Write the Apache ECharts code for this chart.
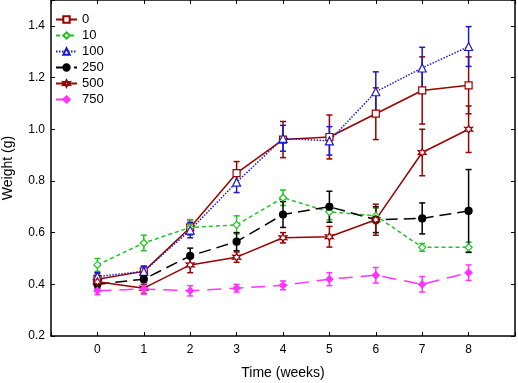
<!DOCTYPE html>
<html>
<head>
<meta charset="utf-8">
<script src="https://cdn.jsdelivr.net/npm/echarts@6/dist/echarts.min.js"></script>
<style>
  html, body { margin: 0; padding: 0; background: #fff; }
  #main { width: 518px; height: 383px; }
</style>
</head>
<body>
<div id="main"></div>
<script>
// weeks on the x axis
const weeks = [0, 1, 2, 3, 4, 5, 6, 7, 8];
const yTicks = [0.2, 0.4, 0.6, 0.8, 1.0, 1.2, 1.4];

// mean weight (g) and error per dose group
const w0 = [0.42, 0.45, 0.62, 0.83, 0.96, 0.97, 1.06, 1.15, 1.17];
const e0 = [0.02, 0.02, 0.03, 0.045, 0.07, 0.085, 0.1, 0.13, 0.11];
const w10 = [0.475, 0.56, 0.62, 0.63, 0.735, 0.68, 0.665, 0.543, 0.543];
const e10 = [0.025, 0.03, 0.03, 0.035, 0.03, 0.03, 0.03, 0.015, 0.02];
const w100 = [0.43, 0.45, 0.61, 0.795, 0.965, 0.955, 1.145, 1.237, 1.32];
const e100 = [0.015, 0.02, 0.03, 0.04, 0.05, 0.055, 0.077, 0.08, 0.077];
const w250 = [0.40, 0.42, 0.51, 0.565, 0.67, 0.70, 0.65, 0.655, 0.684];
const e250 = [0.015, 0.02, 0.03, 0.035, 0.05, 0.06, 0.05, 0.06, 0.16];
const w500 = [0.41, 0.385, 0.475, 0.505, 0.58, 0.584, 0.65, 0.91, 1.0];
const e500 = [0.015, 0.02, 0.03, 0.02, 0.02, 0.04, 0.06, 0.09, 0.09];
const w750 = [0.375, 0.382, 0.375, 0.385, 0.396, 0.42, 0.435, 0.40, 0.445];
const e750 = [0.015, 0.02, 0.02, 0.015, 0.017, 0.025, 0.03, 0.03, 0.03];

// six point star for the 500 group
const star6 = "path://M10,0 L12.5,5.7 L18.7,5 L15,10 L18.7,15 L12.5,14.3 L10,20 L7.5,14.3 L1.3,15 L5,10 L1.3,5 L7.5,5.7 Z";

const groups = [
  { name: "0", vals: w0, errs: e0, color: "#990000", dash: "solid", symbol: "rect", size: 7, fill: "#fff" },
  { name: "10", vals: w10, errs: e10, color: "#22c322", dash: [4, 3], symbol: "diamond", size: 7, fill: "#fff" },
  { name: "100", vals: w100, errs: e100, color: "#1a1acc", dash: [1.5, 1.5], symbol: "triangle", size: 8, fill: "#fff" },
  { name: "250", vals: w250, errs: e250, color: "#000000", dash: [12, 6], symbol: "circle", size: 7, fill: "#000" },
  { name: "500", vals: w500, errs: e500, color: "#990000", dash: "solid", symbol: star6, size: 8, fill: "#fff" },
  { name: "750", vals: w750, errs: e750, color: "#ff33ff", dash: [14, 8], symbol: "diamond", size: 7, fill: "#ff33ff" },
];

const font = "'Liberation Sans', Arial, sans-serif";
let chart = echarts.init(document.getElementById("main"));

let series = [];
groups.forEach((g) => {
  // error bars
  series.push({
    name: g.name + "_err",
    type: "custom",
    z: 2,
    data: weeks.map((w, i) => [w, g.vals[i] - g.errs[i], g.vals[i] + g.errs[i]]),
    renderItem: (params, api) => {
      let lo = api.coord([api.value(0), api.value(1)]);
      let hi = api.coord([api.value(0), api.value(2)]);
      let c = 3;
      let st = { stroke: g.color, lineWidth: 1.5 };
      return {
        type: "group",
        children: [
          { type: "line", shape: { x1: lo[0], y1: lo[1], x2: hi[0], y2: hi[1] }, style: st },
          { type: "line", shape: { x1: lo[0] - c, y1: lo[1], x2: lo[0] + c, y2: lo[1] }, style: st },
          { type: "line", shape: { x1: hi[0] - c, y1: hi[1], x2: hi[0] + c, y2: hi[1] }, style: st },
        ],
      };
    },
  });
  series.push({
    name: g.name,
    type: "line",
    z: 3,
    data: weeks.map((w, i) => [w, g.vals[i]]),
    symbol: g.symbol,
    symbolSize: g.size,
    showAllSymbol: true,
    lineStyle: { color: g.color, width: 1.5, type: g.dash },
    itemStyle: { color: g.fill, borderColor: g.color, borderWidth: 1.2 },
    emphasis: { disabled: true },
  });
});

let option = {
  animation: false,
  backgroundColor: "#fff",
  textStyle: { fontFamily: font },
  grid: { left: 51, right: 3, top: 0, bottom: 47, outerBoundsMode: "none", containLabel: false },
  legend: {
    data: groups.map((g) => g.name),
    orient: "vertical",
    left: 50,
    top: 8,
    itemWidth: 21,
    itemHeight: 8,
    itemGap: 3,
    textStyle: { fontSize: 13, color: "#000", fontFamily: font },
  },
  xAxis: [
    {
      type: "value",
      min: -1,
      max: 9,
      interval: 1,
      name: "Time (weeks)",
      nameLocation: "middle",
      nameGap: 30,
      nameTextStyle: { fontSize: 14, color: "#000", fontFamily: font },
      axisLine: { onZero: false, lineStyle: { color: "#000", width: 1.5 } },
      axisTick: { inside: true, length: 4, lineStyle: { color: "#000" } },
      axisLabel: {
        fontSize: 12,
        color: "#000",
        margin: 8,
        formatter: (v) => (weeks.includes(v) ? String(v) : ""),
      },
      splitLine: { show: false },
    },
    {
      type: "value",
      position: "top",
      min: -1,
      max: 9,
      interval: 1,
      axisLine: { show: true, onZero: false, lineStyle: { color: "#000", width: 1.5 } },
      axisTick: { inside: true, length: 4, lineStyle: { color: "#000" } },
      axisLabel: { show: false },
      splitLine: { show: false },
    },
  ],
  yAxis: [
    {
      type: "value",
      min: 0.2,
      max: 1.5,
      interval: 0.2,
      name: "Weight (g)",
      nameLocation: "middle",
      nameGap: 36,
      nameTextStyle: { fontSize: 14, color: "#000", fontFamily: font },
      axisLine: { show: true, onZero: false, lineStyle: { color: "#000", width: 1.5 } },
      axisTick: { inside: true, length: 4, lineStyle: { color: "#000" } },
      axisLabel: {
        fontSize: 12,
        color: "#000",
        margin: 6,
        formatter: (v) => {
          let t = yTicks.find((y) => Math.abs(y - v) < 1e-6);
          return t === undefined ? "" : t.toFixed(1);
        },
      },
      splitLine: { show: false },
    },
    {
      type: "value",
      position: "right",
      min: 0.2,
      max: 1.5,
      interval: 0.2,
      axisLine: { show: true, onZero: false, lineStyle: { color: "#000", width: 1.5 } },
      axisTick: { inside: true, length: 4, lineStyle: { color: "#000" } },
      axisLabel: { show: false },
      splitLine: { show: false },
    },
  ],
  series: series,
};
chart.setOption(option);
</script>
</body>
</html>
